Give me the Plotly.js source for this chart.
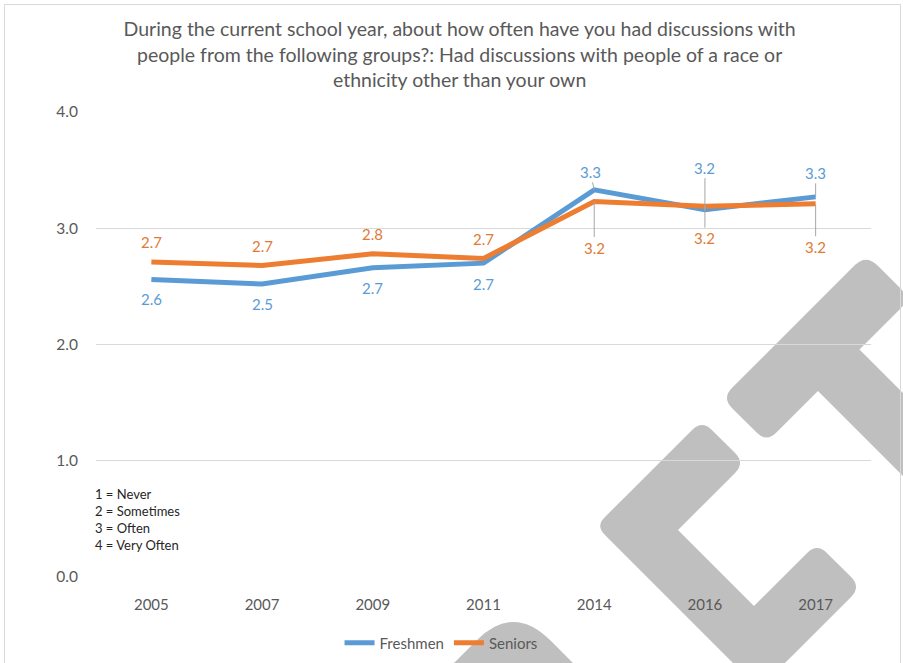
<!DOCTYPE html>
<html>
<head>
<meta charset="utf-8">
<script src="https://cdn.plot.ly/plotly-3.0.1.min.js"></script>
<style>
  html, body { margin: 0; padding: 0; background: #fff; overflow: hidden; }
  #wrap { position: relative; width: 903px; height: 663px; }
  #chart { width: 903px; height: 663px; }
  #frame { position: absolute; left: 4px; top: 4px; width: 897px; height: 680px;
           border: 1px solid #d9d9d9; pointer-events: none; box-sizing: border-box; }
</style>
</head>
<body>
<div id="wrap"><div id="chart"></div><div id="frame"></div></div>
<script>
// ---- data ----
const years = ["2005", "2007", "2009", "2011", "2014", "2016", "2017"];
const freshmen = [2.56, 2.52, 2.66, 2.70, 3.33, 3.16, 3.27];
const seniors  = [2.71, 2.68, 2.78, 2.74, 3.23, 3.19, 3.21];
const seriesNames = ["Freshmen", "Seniors"];
const titleText = "During the current school year, about how often have you had discussions with<br>people from the following groups?: Had discussions with people of a race or<br>ethnicity other than your own";
const scaleNote = "1 = Never<br>2 = Sometimes<br>3 = Often<br>4 = Very Often";

// ---- styling / label placement (layout, not data) ----
const colors = ["#5B9BD5", "#ED7D31"];
const labelColors = ["#5B9BD5", "#E07A35"];
// [ax, ay] pixel offsets for labels; arrow=true draws a leader line
const fLabelPos = [[0,20,false],[0,20,false],[0,20,false],[0,21,false],[-4,-18,true],[0,-42,true],[0,-24,true]];
const sLabelPos = [[0,-20,false],[0,-19,false],[0,-20,false],[0,-19,false],[0,46,true],[0,32,true],[0,43,true]];

const M = {l: 96, r: 32, t: 112, b: 86};
const PW = 903 - M.l - M.r, PH = 663 - M.t - M.b;
function toPaper(p) { return [(p[0] - M.l) / PW, (663 - M.b - p[1]) / PH]; }
function uv(u, v) { return [(u + v) / 2, (v - u) / 2]; }
function roundedPath(pts, radii) {
  const n = pts.length; let d = "";
  const f = p => { const q = toPaper(p); return q[0].toFixed(5) + "," + q[1].toFixed(5); };
  for (let i = 0; i < n; i++) {
    const P = pts[i], A0 = pts[(i - 1 + n) % n], B0 = pts[(i + 1) % n], r = radii[i];
    const cmd = i === 0 ? "M" : "L";
    if (!r) { d += cmd + f(P) + " "; continue; }
    const da = Math.hypot(A0[0]-P[0], A0[1]-P[1]), db = Math.hypot(B0[0]-P[0], B0[1]-P[1]);
    const A = [P[0] + (A0[0]-P[0]) * r / da, P[1] + (A0[1]-P[1]) * r / da];
    const B = [P[0] + (B0[0]-P[0]) * r / db, P[1] + (B0[1]-P[1]) * r / db];
    d += cmd + f(A) + " Q" + f(P) + " " + f(B) + " ";
  }
  return d + "Z";
}
const markT = roundedPath([uv(612,1120), uv(324,1120), uv(324,1209), uv(427,1209), uv(427,1700), uv(510,1700), uv(510,1209), uv(612,1209)],
                          [16,14,14,0,0,0,0,14]);
const markC = roundedPath([uv(282,1122), uv(70,1122), uv(70,1448), uv(274,1448), uv(274,1360), uv(148,1360), uv(148,1208), uv(282,1208)],
                          [14,12,10,14,14,0,0,14]);
const markB = roundedPath([uv(-90,1117), uv(-90,1500), uv(-400,1500), uv(-400,1117)], [52,0,0,0]);
const shapes = [markT, markC, markB].map(p => ({
  type: "path", xref: "paper", yref: "paper", path: p, layer: "below",
  fillcolor: "#BFBFBF", line: {width: 0}
}));

const FONT = "Lato, 'Open Sans', sans-serif";
const traces = [freshmen, seniors].map((vals, k) => ({
  type: "scatter", mode: "lines", name: seriesNames[k], x: years, y: vals,
  line: {color: colors[k], width: 5}, hoverinfo: "skip"
}));

const annotations = [];
[[freshmen, fLabelPos, 0], [seniors, sLabelPos, 1]].forEach(([vals, pos, k]) => {
  vals.forEach((v, i) => {
    const [ax, ay, arrow] = pos[i];
    const a = {
      x: i, y: v, xref: "x", yref: "y", text: v.toFixed(1),
      font: {family: FONT, size: 15, color: labelColors[k]}
    };
    if (arrow) {
      Object.assign(a, {showarrow: true, ax: ax, ay: ay, arrowhead: 0, arrowwidth: 1,
                        arrowcolor: "#A6A6A6", standoff: 0});
    } else {
      Object.assign(a, {showarrow: false, yshift: -ay, xshift: ax});
    }
    annotations.push(a);
  });
});
annotations.push({
  xref: "paper", yref: "paper", x: -0.004, y: 0.2, xanchor: "left", yanchor: "top",
  showarrow: false, align: "left", text: scaleNote,
  font: {family: FONT, size: 13, color: "#262626"}
});

const layout = {
  width: 903, height: 663,
  margin: M,
  paper_bgcolor: "#ffffff", plot_bgcolor: "rgba(0,0,0,0)",
  font: {family: FONT, color: "#595959"},
  title: {
    text: titleText, xref: "container", yref: "container",
    x: 0.509, xanchor: "center", y: 0.945, yanchor: "top",
    font: {family: FONT, size: 19.5, color: "#595959"}
  },
  xaxis: {
    type: "category", range: [-0.5, 6.5], showgrid: false, zeroline: false, showline: false,
    ticks: "", tickfont: {family: FONT, size: 15, color: "#595959"}, ticklabelstandoff: 17,
    fixedrange: true, automargin: false
  },
  yaxis: {
    range: [0, 4], dtick: 1, tick0: 0, tickformat: ".1f", showgrid: true, gridcolor: "#D9D9D9",
    gridwidth: 1, zeroline: false, showline: false, ticks: "",
    tickfont: {family: FONT, size: 15.5, color: "#595959"}, ticklabelstandoff: 17, fixedrange: true,
    automargin: false
  },
  showlegend: true,
  legend: {
    orientation: "h", xref: "container", yref: "container",
    x: 0.4884, xanchor: "center", y: 0.0302, yanchor: "middle",
    font: {family: FONT, size: 15, color: "#595959"}, bgcolor: "rgba(0,0,0,0)"
  },
  shapes: shapes,
  annotations: annotations
};

Plotly.newPlot("chart", traces, layout, {displayModeBar: false, staticPlot: true});
</script>
</body>
</html>
